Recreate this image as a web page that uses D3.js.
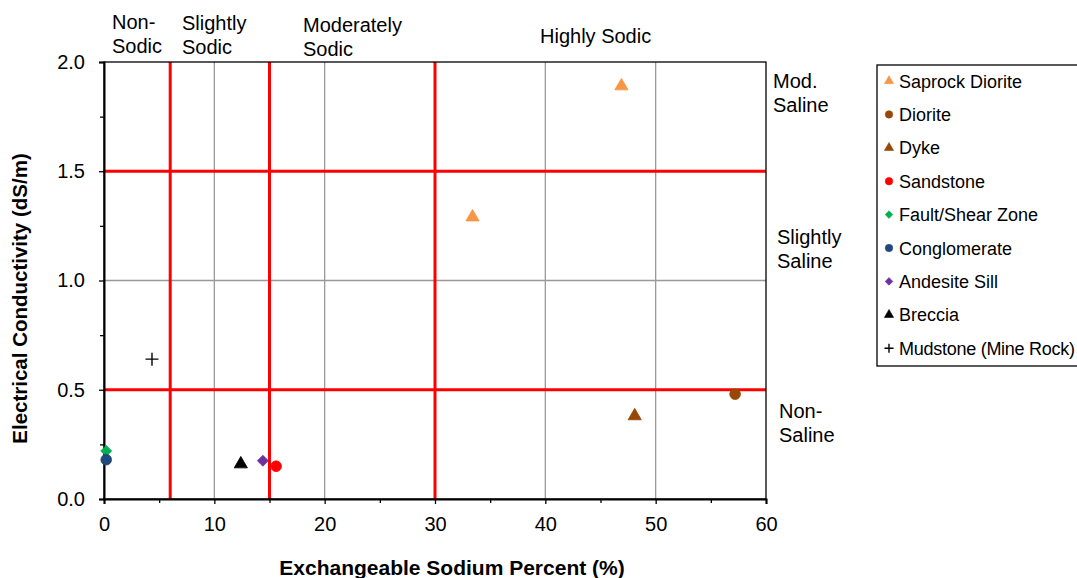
<!DOCTYPE html>
<html>
<head>
<meta charset="utf-8">
<script src="https://cdn.jsdelivr.net/npm/d3@7"></script>
<style>
  html, body { margin: 0; padding: 0; background: #fff; }
  svg { display: block; font-family: "Liberation Sans", Arial, sans-serif; }
</style>
</head>
<body>
<svg id="chart" width="1077" height="578"></svg>
<script>
// Sample series: exchangeable sodium percent (x) vs electrical conductivity (y)
const seriesNames = ["Saprock Diorite", "Diorite", "Dyke", "Sandstone", "Fault/Shear Zone",
                     "Conglomerate", "Andesite Sill", "Breccia", "Mudstone (Mine Rock)"];
const seriesColors = ["#F79646", "#974706", "#974706", "#FF0000", "#00B050",
                      "#1F497D", "#7030A0", "#000000", "#000000"];
const seriesShapes = ["triangle", "circle", "triangle", "circle", "diamond",
                      "circle", "diamond", "triangle", "plus"];
const saprockDiorite = [[46.9, 1.89], [33.4, 1.29]];
const diorite = [[57.2, 0.48]];
const dyke = [[48.1, 0.38]];
const sandstone = [[15.6, 0.15]];
const faultShearZone = [[0.2, 0.22]];
const conglomerate = [[0.2, 0.18]];
const andesiteSill = [[14.4, 0.175]];
const breccia = [[12.4, 0.16]];
const mudstone = [[4.35, 0.64]];
const seriesValues = [saprockDiorite, diorite, dyke, sandstone, faultShearZone,
                      conglomerate, andesiteSill, breccia, mudstone];

// Axis ticks and classification thresholds
const xTicks = [0, 10, 20, 30, 40, 50, 60];
const yTicks = [0.0, 0.5, 1.0, 1.5, 2.0];
const sodicThresholds = [6, 15, 30];
const salineThresholds = [0.5, 1.5];
const sodicLabels = [["Non-", "Sodic"], ["Slightly", "Sodic"], ["Moderately", "Sodic"], ["Highly Sodic"]];
const salineLabels = [["Mod.", "Saline"], ["Slightly", "Saline"], ["Non-", "Saline"]];

const svg = d3.select("#chart");
const plotLeft = 104, plotRight = 766, plotTop = 62, plotBottom = 499;

const x = d3.scaleLinear().domain([0, 60]).range([plotLeft, plotRight]);
const y = d3.scaleLinear().domain([0, 2]).range([plotBottom, plotTop]);

// Gridlines
const grid = svg.append("g");
grid.selectAll("line.vx").data(xTicks.slice(1, -1)).join("line")
  .attr("x1", d => x(d)).attr("x2", d => x(d))
  .attr("y1", plotTop).attr("y2", plotBottom)
  .attr("stroke", "#999").attr("stroke-width", 1.3);
grid.selectAll("line.hy").data(yTicks.slice(1, -1)).join("line")
  .attr("x1", plotLeft).attr("x2", plotRight)
  .attr("y1", d => y(d)).attr("y2", d => y(d))
  .attr("stroke", "#999").attr("stroke-width", 1.3);

// Threshold lines
const thr = svg.append("g");
thr.selectAll("line.v").data(sodicThresholds).join("line")
  .attr("x1", d => x(d)).attr("x2", d => x(d))
  .attr("y1", plotTop).attr("y2", plotBottom)
  .attr("stroke", "#FF0000").attr("stroke-width", 3);
thr.selectAll("line.h").data(salineThresholds).join("line")
  .attr("x1", plotLeft).attr("x2", plotRight)
  .attr("y1", d => y(d)).attr("y2", d => y(d))
  .attr("stroke", "#FF0000").attr("stroke-width", 3);

// Plot frame
svg.append("rect")
  .attr("x", plotLeft).attr("y", plotTop)
  .attr("width", plotRight - plotLeft).attr("height", plotBottom - plotTop)
  .attr("fill", "none").attr("stroke", "#000").attr("stroke-width", 1.3);

// Axes
const xAxis = d3.axisBottom(x).tickValues(xTicks).tickFormat(d3.format("d"))
  .tickSize(5).tickPadding(13);
const xMinor = d3.axisBottom(x).tickValues(d3.range(5, 60, 10)).tickFormat("").tickSize(4);
const yAxis = d3.axisLeft(y).tickValues(yTicks).tickFormat(d3.format(".1f"))
  .tickSize(5).tickPadding(14);
const yMinor = d3.axisLeft(y).tickValues(d3.range(0.25, 2, 0.5)).tickFormat("").tickSize(4);

function styleAxis(g) {
  g.select(".domain").attr("stroke", "#000").attr("stroke-width", 2);
  g.selectAll(".tick line").attr("stroke", "#000").attr("stroke-width", 1.3);
  g.selectAll(".tick text").attr("fill", "#000")
    .style("font-size", "20px").style("font-family", "Liberation Sans, Arial, sans-serif");
}
svg.append("g").attr("transform", `translate(0,${plotBottom})`).call(xAxis).call(styleAxis);
svg.append("g").attr("transform", `translate(0,${plotBottom})`).call(xMinor).call(styleAxis)
  .select(".domain").remove();
svg.append("g").attr("transform", `translate(${plotLeft},0)`).call(yAxis).call(styleAxis);
svg.append("g").attr("transform", `translate(${plotLeft},0)`).call(yMinor).call(styleAxis)
  .select(".domain").remove();

// Axis titles
svg.append("text")
  .attr("x", 452).attr("y", 575)
  .attr("text-anchor", "middle")
  .style("font-size", "21px").style("font-weight", "bold")
  .text("Exchangeable Sodium Percent (%)");
svg.append("text")
  .attr("transform", `translate(27,${(plotTop + plotBottom) / 2 + 18}) rotate(-90)`)
  .attr("text-anchor", "middle")
  .style("font-size", "20.5px").style("font-weight", "bold")
  .text("Electrical Conductivity (dS/m)");

// Zone labels
function multiLine(lines, px, py, lh) {
  const t = svg.append("text").attr("x", px).attr("y", py).style("font-size", "20px");
  lines.forEach((s, i) => t.append("tspan").attr("x", px).attr("dy", i === 0 ? 0 : lh).text(s));
}
const sodicPos = [[112, 29], [182, 30], [303, 32], [540, 43]];
sodicLabels.forEach((l, i) => multiLine(l, sodicPos[i][0], sodicPos[i][1], 23.5));
const salinePos = [[773, 88], [777, 244], [779, 418]];
salineLabels.forEach((l, i) => multiLine(l, salinePos[i][0], salinePos[i][1], 24));

// Marker symbols
function symbolPath(shape) {
  if (shape === "triangle") return d3.symbol(d3.symbolTriangle, 76)();
  if (shape === "circle") return d3.symbol(d3.symbolCircle, 90)();
  if (shape === "diamond") return "M0,-5.5L5.5,0L0,5.5L-5.5,0Z";
  return null;
}
function drawMarker(g, shape, color, scale) {
  if (shape === "plus") {
    const s = 6.5 * scale;
    g.append("path").attr("d", `M${-s},0H${s}M0,${-s}V${s}`)
      .attr("stroke", color).attr("stroke-width", 1.4).attr("fill", "none");
  } else {
    g.append("path").attr("d", symbolPath(shape))
      .attr("transform", `scale(${scale})`)
      .attr("fill", color).attr("stroke", color).attr("stroke-width", 0.8)
      .attr("stroke-linejoin", "round");
  }
}

// Data points
const pts = svg.append("g");
seriesValues.forEach((vals, i) => {
  vals.forEach(([vx, vy]) => {
    const g = pts.append("g").attr("transform", `translate(${x(vx)},${y(vy)})`);
    drawMarker(g, seriesShapes[i], seriesColors[i], 1);
  });
});

// Legend
const lg = svg.append("g");
lg.append("rect").attr("x", 877).attr("y", 65).attr("width", 220).attr("height", 301)
  .attr("fill", "#fff").attr("stroke", "#000").attr("stroke-width", 1.3);
seriesNames.forEach((name, i) => {
  const cy = 81 + i * 33.4;
  const g = lg.append("g").attr("transform", `translate(889,${cy})`);
  drawMarker(g, seriesShapes[i], seriesColors[i], 0.7);
  const t = lg.append("text").attr("x", 899).attr("y", cy + 6.5)
    .style("font-size", "18px").text(name);
  // keep the longest entry inside the page edge
  const w = t.node().getComputedTextLength();
  if (899 + w > 1075) t.attr("textLength", 1075 - 899).attr("lengthAdjust", "spacing");
});
</script>
</body>
</html>
